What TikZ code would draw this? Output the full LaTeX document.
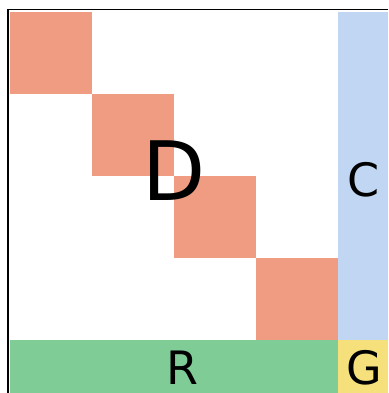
\documentclass[tikz,border=0pt]{standalone}
\usepackage{fontspec}
\setmainfont{DejaVu Sans}
\definecolor{salmon}{HTML}{F09C82}
\definecolor{cblue}{HTML}{C0D6F2}
\definecolor{rgreen}{HTML}{80CC96}
\definecolor{gyellow}{HTML}{F6E07C}
\begin{document}
\begin{tikzpicture}[x=1pt,y=-1pt,
  blk/.style={inner sep=0pt,outer sep=0pt},
  big/.style={font=\fontsize{82}{82}\selectfont,inner sep=0pt},
  lbl/.style={font=\fontsize{46}{46}\selectfont,inner sep=0pt}]
\useasboundingbox (0,0) rectangle (388,393);
\fill[white] (0,0) rectangle (388,393);
\fill[salmon] (10,12) rectangle (92,94);
\fill[salmon] (92,94) rectangle (174,176);
\fill[salmon] (174,176) rectangle (256,258);
\fill[salmon] (256,258) rectangle (338,340);
\fill[cblue] (338,12) rectangle (388,340);
\fill[rgreen] (10,340) rectangle (338,393);
\fill[gyellow] (338,340) rectangle (388,393);
\draw[line width=1.2pt] (8,393) -- (8,9.5) -- (388,9.5);
\node[big] (D) at (174.5,171) {D};
\node[lbl] (C) at (364,180) {C};
\node[lbl] (R) at (182.5,367.5) {R};
\node[lbl] (G) at (364.5,367.5) {G};
\end{tikzpicture}
\end{document}
